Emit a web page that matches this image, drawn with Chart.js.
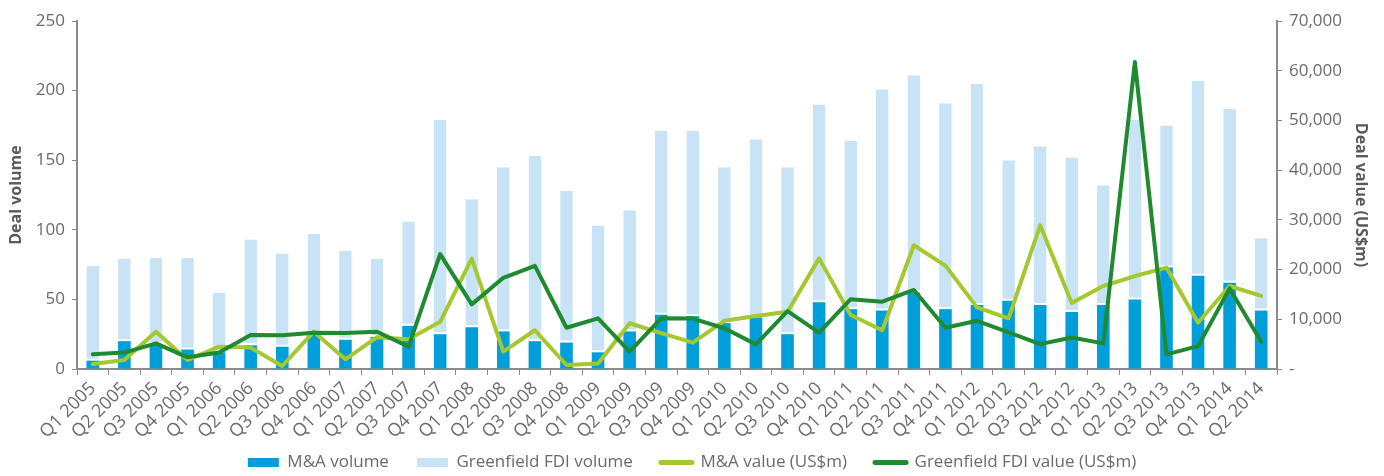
<!DOCTYPE html>
<html>
<head>
<meta charset="utf-8">
<script src="https://cdn.jsdelivr.net/npm/chart.js@4/dist/chart.umd.min.js"></script>
<style>
  html, body { margin: 0; padding: 0; background: #fff; }
  #wrap { width: 1384px; height: 476px; position: relative; }
</style>
</head>
<body>
<div id="wrap"><canvas id="dealChart"></canvas></div>
<script>
var quarters = ['Q1 2005', 'Q2 2005', 'Q3 2005', 'Q4 2005', 'Q1 2006', 'Q2 2006', 'Q3 2006', 'Q4 2006',
    'Q1 2007', 'Q2 2007', 'Q3 2007', 'Q4 2007', 'Q1 2008', 'Q2 2008', 'Q3 2008', 'Q4 2008',
    'Q1 2009', 'Q2 2009', 'Q3 2009', 'Q4 2009', 'Q1 2010', 'Q2 2010', 'Q3 2010', 'Q4 2010',
    'Q1 2011', 'Q2 2011', 'Q3 2011', 'Q4 2011', 'Q1 2012', 'Q2 2012', 'Q3 2012', 'Q4 2012',
    'Q1 2013', 'Q2 2013', 'Q3 2013', 'Q4 2013', 'Q1 2014', 'Q2 2014'];

// deal counts (bars, left axis)
var maVolume = [6, 20, 18, 14, 12, 17, 16, 25, 21, 23, 31, 25, 30, 27, 20, 19, 12, 27, 39, 38,
    33, 37, 25, 48, 43, 42, 55, 43, 46, 49, 46, 41, 46, 50, 73, 67, 62, 42];
var totalVolume = [74, 79, 80, 80, 55, 93, 83, 97, 85, 79, 106, 179, 122, 145, 153, 128, 103, 114, 171, 171,
    145, 165, 145, 190, 164, 201, 211, 191, 205, 150, 160, 152, 132, 179, 175, 207, 187, 94];
// greenfield bar sits on top of the M&A bar
var greenfieldVolume = totalVolume.map(function (t, i) { return t - maVolume[i]; });

// deal values in US$m (lines, right axis)
var maValue = [1000, 1800, 7500, 1800, 4500, 4300, 600, 7500, 1950, 6400, 6000, 9500, 22200, 3500, 7800, 800,
    1100, 9200, 7200, 5300, 9700, 10650, 11500, 22250, 10850, 7800, 24900, 20800, 12400, 10200, 28900, 13300,
    16700, 18700, 20400, 9300, 16700, 14700];
var greenfieldValue = [2950, 3300, 5150, 2350, 3300, 6850, 6800, 7300, 7250, 7500, 4500, 23100, 13000, 18350, 20750, 8300,
    10200, 3500, 10200, 10150, 8200, 4950, 11650, 7300, 14050, 13550, 15900, 8300, 9700, 7350, 5000, 6350,
    5150, 61750, 2950, 4600, 16200, 5500];

var tickGrey = '#6b6b6b';
var axisGrey = '#8a8a8a';
var fontFamily = "'Open Sans', 'Noto Sans', sans-serif";
var baseFont = { family: fontFamily, size: 17 };

document.addEventListener('DOMContentLoaded', function () {
    var ctx = document.getElementById('dealChart').getContext('2d');
    var dealChart = new Chart(ctx, {
        type: 'bar',
        data: {
            labels: quarters,
            datasets: [
                {
                    label: 'M&A volume',
                    data: maVolume,
                    backgroundColor: '#009fda',
                    borderWidth: 0,
                    stack: 'vol',
                    yAxisID: 'y',
                    order: 2,
                    barPercentage: 0.4,
                    categoryPercentage: 1.0
                },
                {
                    label: 'Greenfield FDI volume',
                    data: greenfieldVolume,
                    backgroundColor: '#c8e3f5',
                    borderColor: '#ffffff',
                    borderWidth: { top: 0, left: 0, right: 0, bottom: 2 },
                    borderSkipped: false,
                    stack: 'vol',
                    yAxisID: 'y',
                    order: 2,
                    barPercentage: 0.4,
                    categoryPercentage: 1.0
                },
                {
                    type: 'line',
                    label: 'M&A value (US$m)',
                    data: maValue,
                    borderColor: '#a5c72f',
                    backgroundColor: '#a5c72f',
                    borderWidth: 4,
                    pointRadius: 0,
                    tension: 0,
                    fill: false,
                    borderCapStyle: 'round',
                    borderJoinStyle: 'round',
                    yAxisID: 'y1',
                    order: 1
                },
                {
                    type: 'line',
                    label: 'Greenfield FDI value (US$m)',
                    data: greenfieldValue,
                    borderColor: '#1f8a30',
                    backgroundColor: '#1f8a30',
                    borderWidth: 4,
                    pointRadius: 0,
                    tension: 0,
                    fill: false,
                    borderCapStyle: 'round',
                    borderJoinStyle: 'round',
                    yAxisID: 'y1',
                    order: 0
                }
            ]
        },
        options: {
            responsive: true,
            maintainAspectRatio: false,
            animation: false,
            layout: { padding: { left: 0, right: 0, top: 21, bottom: -5 } },
            plugins: {
                tooltip: { enabled: false },
                legend: {
                    position: 'bottom',
                    labels: {
                        color: tickGrey,
                        font: baseFont,
                        usePointStyle: true,
                        pointStyleWidth: 31,
                        boxHeight: 9,
                        padding: 28,
                        sort: function (a, b) { return a.datasetIndex - b.datasetIndex; },
                        generateLabels: function (chart) {
                            var items = Chart.defaults.plugins.legend.labels.generateLabels(chart);
                            items.forEach(function (it) {
                                var ds = chart.data.datasets[it.datasetIndex];
                                if (ds.type === 'line') {
                                    it.pointStyle = 'line';
                                    it.lineWidth = 5;
                                    it.strokeStyle = ds.borderColor;
                                    it.lineCap = 'round';
                                } else {
                                    it.pointStyle = 'rect';
                                    it.lineWidth = 0;
                                    it.strokeStyle = ds.backgroundColor;
                                }
                            });
                            return items;
                        }
                    }
                }
            },
            scales: {
                x: {
                    afterFit: function (scale) {
                        // keep the legend close under the rotated labels, and let the labels run past the box
                        scale.height = 57;
                        scale._computeLabelArea = function () { return null; };
                    },
                    ticks: {
                        color: tickGrey,
                        font: { family: fontFamily, size: 18 },
                        minRotation: 45,
                        maxRotation: 45,
                        autoSkip: false,
                        padding: 3
                    },
                    grid: {
                        drawOnChartArea: false,
                        color: axisGrey,
                        tickLength: 6,
                        offset: true
                    },
                    border: { color: axisGrey, width: 2 }
                },
                y: {
                    position: 'left',
                    min: 0,
                    max: 250,
                    afterFit: function (scale) { scale.width = 77; },
                    ticks: { stepSize: 50, color: tickGrey, font: baseFont, padding: 7 },
                    grid: { drawOnChartArea: false, color: axisGrey, tickLength: 5 },
                    border: { color: axisGrey, width: 2 },
                    title: {
                        display: true,
                        text: 'Deal volume',
                        color: '#5a5a5a',
                        font: { family: fontFamily, size: 16, weight: 'bold' },
                        padding: { top: 7, bottom: 0 }
                    }
                },
                y1: {
                    position: 'right',
                    min: 0,
                    max: 70000,
                    afterFit: function (scale) { scale.width = 107; },
                    ticks: {
                        stepSize: 10000,
                        color: tickGrey,
                        font: baseFont,
                        padding: 7,
                        callback: function (v) { return v === 0 ? '-' : v.toLocaleString('en-US'); }
                    },
                    grid: { drawOnChartArea: false, color: axisGrey, tickLength: 5 },
                    border: { color: axisGrey, width: 2 },
                    title: {
                        display: true,
                        text: 'Deal value (US$m)',
                        color: '#5a5a5a',
                        font: { family: fontFamily, size: 16, weight: 'bold' },
                        padding: { top: 14, bottom: 0 }
                    }
                }
            }
        }
    });
});
</script>
</body>
</html>
